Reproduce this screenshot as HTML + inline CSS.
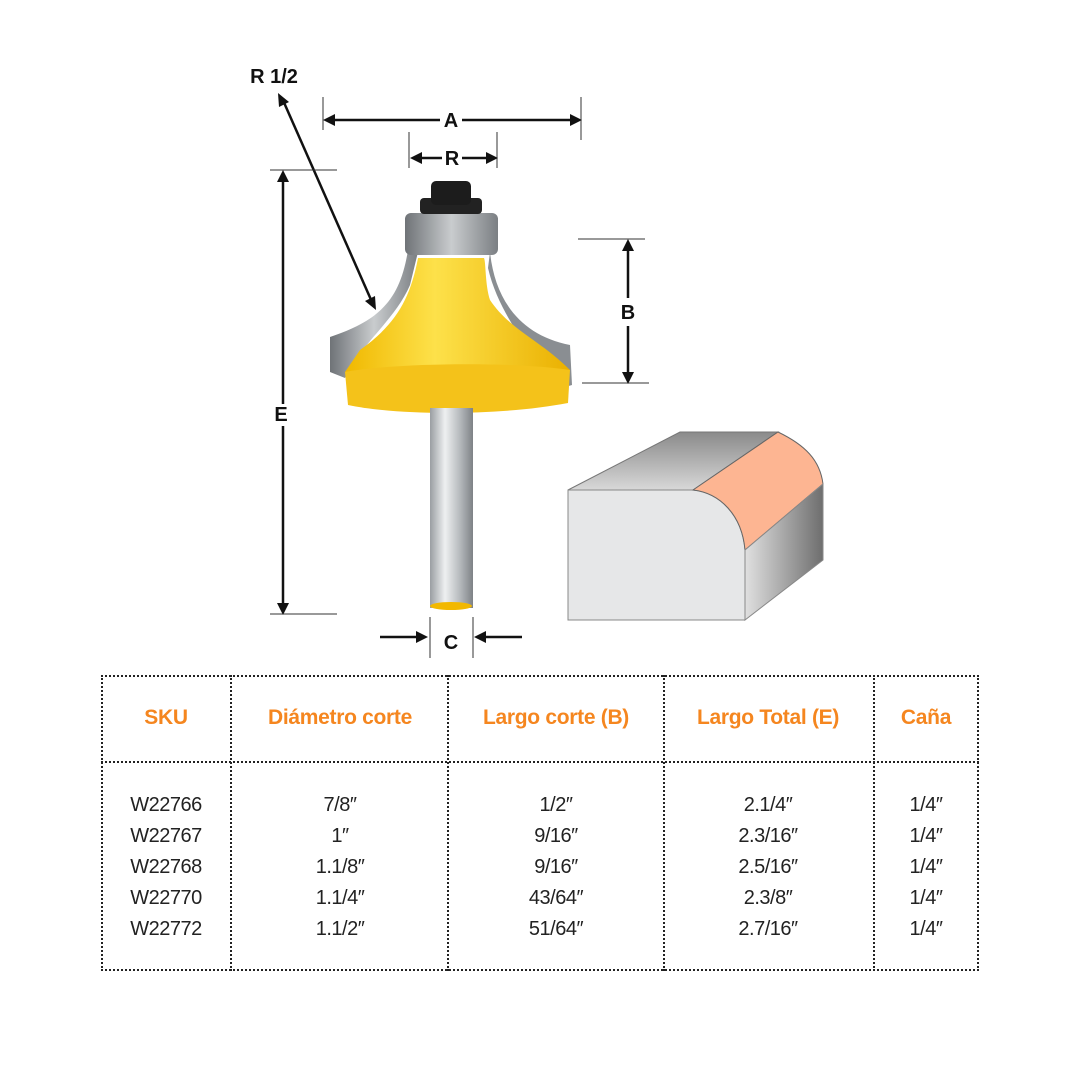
<!DOCTYPE html>
<html><head><meta charset="utf-8"><style>
body{margin:0;background:#fff;width:1080px;height:1080px;overflow:hidden;position:relative;font-family:"Liberation Sans",sans-serif}
svg{position:absolute;left:0;top:0}
.t{position:absolute;left:101px;top:675px;width:878px;height:296px;border:2px dotted #222;box-sizing:border-box}
.h{position:absolute;top:761px;left:101px;width:878px;border-top:2px dotted #222}
.v{position:absolute;top:675px;height:296px;border-left:2px dotted #222}
.c{position:absolute;text-align:center;transform:translateX(-50%)}
.hd{top:706px;color:#f5861f;font-weight:bold;font-size:21px;letter-spacing:-0.3px;white-space:nowrap}
.d{top:790px;color:#222;font-size:20px;line-height:31px;letter-spacing:-0.5px}
</style></head><body>
<svg width="1080" height="1080">
<defs>
<linearGradient id="sh" x1="0" x2="1"><stop offset="0" stop-color="#9a9ea2"/><stop offset=".35" stop-color="#eef0f1"/><stop offset=".7" stop-color="#b5b9bc"/><stop offset="1" stop-color="#7e8286"/></linearGradient>
<linearGradient id="tp" x1="0" y1="0" x2="0" y2="1"><stop offset="0" stop-color="#8a8a8a"/><stop offset="1" stop-color="#d8d8d8"/></linearGradient>
<linearGradient id="rs" x1="0" x2="1"><stop offset="0" stop-color="#e0e0e0"/><stop offset="1" stop-color="#6e6e6e"/></linearGradient>
<linearGradient id="yl" x1="0" x2="1"><stop offset="0" stop-color="#f0b800"/><stop offset=".4" stop-color="#fde14a"/><stop offset="1" stop-color="#eab000"/></linearGradient>
<linearGradient id="st" x1="0" x2="1"><stop offset="0" stop-color="#6f7377"/><stop offset=".5" stop-color="#c9ccce"/><stop offset="1" stop-color="#7b7f83"/></linearGradient>
</defs>
<g stroke="#111" stroke-width="2.5" fill="#111">
<line x1="330" y1="120" x2="575" y2="120"/><path d="M323 120l12-6v12z M582 120l-12-6v12z" stroke="none"/>
<line x1="415" y1="158" x2="492" y2="158"/><path d="M410 158l12-6v12z M498 158l-12-6v12z" stroke="none"/>
<line x1="283" y1="180" x2="283" y2="606"/><path d="M283 170l-6 12h12z M283 615l-6-12h12z" stroke="none"/>
<line x1="628" y1="248" x2="628" y2="375"/><path d="M628 239l-6 12h12z M628 384l-6-12h12z" stroke="none"/>
<line x1="282" y1="98" x2="372" y2="302"/><path d="M278 93l1 14 10-5z M376 310l-1-14-10 5z" stroke="none"/>
<line x1="380" y1="637" x2="418" y2="637"/><path d="M428 637l-12-6v12z" stroke="none"/>
<line x1="484" y1="637" x2="522" y2="637"/><path d="M474 637l12-6v12z" stroke="none"/>
</g>
<g stroke="#333" stroke-width="1">
<line x1="323" y1="97" x2="323" y2="130"/><line x1="581" y1="97" x2="581" y2="140"/>
<line x1="409" y1="132" x2="409" y2="168"/><line x1="497" y1="132" x2="497" y2="168"/>
<line x1="270" y1="170" x2="337" y2="170"/><line x1="270" y1="614" x2="337" y2="614"/>
<line x1="578" y1="239" x2="645" y2="239"/><line x1="582" y1="383" x2="649" y2="383"/>
<line x1="430" y1="617" x2="430" y2="658"/><line x1="473" y1="617" x2="473" y2="658"/>
</g>
<rect x="262" y="404" width="42" height="22" fill="#fff"/>
<rect x="606" y="298" width="42" height="28" fill="#fff"/>
<g font-family="Liberation Sans" font-size="20" fill="#111" text-anchor="middle" font-weight="bold">
<text x="274" y="83">R 1/2</text><rect x="440" y="108" width="22" height="22" fill="#fff"/><text x="451" y="127">A</text>
<rect x="442" y="147" width="20" height="22" fill="#fff"/><text x="452" y="165">R</text>
<text x="281" y="421">E</text><text x="628" y="319">B</text><text x="451" y="649">C</text>
</g>
<!-- bit -->
<path d="M330 337 L330 372 L345 378 C360 345 395 320 410 285 L418 252 L408 250 C400 300 380 320 330 337z" fill="url(#st)"/>
<path d="M490 252 C495 300 520 335 570 345 L572 385 L555 390 C540 360 500 320 488 268z" fill="#8a8e92"/>
<path d="M418 258 C410 300 395 325 360 350 L345 372 L570 370 C540 340 510 330 490 300 C485 285 486 262 484 258z" fill="url(#yl)"/>
<path d="M345 372 C400 362 520 362 570 370 L568 403 C500 416 400 416 348 405z" fill="#f4c21a"/>
<rect x="430" y="408" width="43" height="200" fill="url(#sh)"/>
<ellipse cx="451" cy="606" rx="21" ry="4" fill="#f2b800"/>
<rect x="405" y="213" width="93" height="42" rx="6" fill="url(#st)"/>
<rect x="420" y="198" width="62" height="16" rx="4" fill="#222"/>
<rect x="431" y="181" width="40" height="24" rx="5" fill="#1c1c1c"/>
<!-- block -->
<path d="M568 490 L680 432 L778 432 L693 490z" fill="url(#tp)" stroke="#777" stroke-width="1"/>
<path d="M568 490 L693 490 C720 493 742 515 745 550 L745 620 L568 620z" fill="#e6e7e8" stroke="#888" stroke-width="1"/>
<path d="M693 490 L778 432 C805 445 820 460 823 484 L745 550 C742 515 720 493 693 490z" fill="#fdb592" stroke="#666" stroke-width="1"/>
<path d="M745 550 L823 484 L823 560 L745 620z" fill="url(#rs)" stroke="#888" stroke-width="1"/>
</svg>
<div class="t"></div><div class="h"></div>
<div class="v" style="left:230px"></div><div class="v" style="left:447px"></div><div class="v" style="left:663px"></div><div class="v" style="left:873px"></div>
<div class="c hd" style="left:166px">SKU</div>
<div class="c hd" style="left:340px">Diámetro corte</div>
<div class="c hd" style="left:556px">Largo corte (B)</div>
<div class="c hd" style="left:768px">Largo Total (E)</div>
<div class="c hd" style="left:926px">Caña</div>
<div class="c d" style="left:166px">W22766<br>W22767<br>W22768<br>W22770<br>W22772</div>
<div class="c d" style="left:340px">7/8″<br>1″<br>1.1/8″<br>1.1/4″<br>1.1/2″</div>
<div class="c d" style="left:556px">1/2″<br>9/16″<br>9/16″<br>43/64″<br>51/64″</div>
<div class="c d" style="left:768px">2.1/4″<br>2.3/16″<br>2.5/16″<br>2.3/8″<br>2.7/16″</div>
<div class="c d" style="left:926px">1/4″<br>1/4″<br>1/4″<br>1/4″<br>1/4″</div>
</body></html>
